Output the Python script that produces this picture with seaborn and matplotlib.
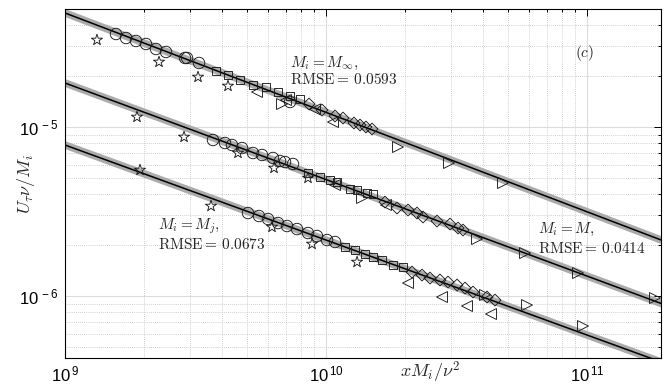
import numpy as np
import pandas as pd
import matplotlib
matplotlib.use("Agg")
import matplotlib.pyplot as plt
import seaborn as sns
from matplotlib.ticker import LogLocator, FuncFormatter, NullFormatter

# ---------------- data (x in units of 1e9, y in units of 1e-6) ----------------
inf_x = [1.326, 2.292, 3.233, 4.212,
         1.568, 1.713, 1.871, 2.043, 2.232, 2.438, 2.883, 2.934, 3.262, 7.28,
         3.789, 4.212, 4.683, 5.252, 5.891, 6.549, 7.279, 7.950,
         5.440, 7.026, 9.075, 10.64,
         6.783, 18.87, 29.60, 47.67,
         8.61, 9.654, 10.83, 11.62, 12.80, 13.50, 14.23, 15.01]
inf_y = [32.72, 24.25, 19.76, 17.48,
         35.50, 33.62, 32.28, 30.99, 28.94, 27.79, 25.61, 25.61, 23.92, 14.06,
         21.45, 20.31, 18.97, 17.72, 17.24, 16.11, 15.25, 14.64,
         16.11, 14.44, 12.71, 10.70,
         13.68, 7.614, 6.124, 4.663,
         13.68, 12.60, 11.62, 11.30, 10.56, 10.27, 10.00, 9.73]
inf_m = (["*"] * 4 + ["o"] * 10 + ["s"] * 8 + ["<"] * 4 + [">"] * 4 + ["D"] * 8)

m_x = [1.887, 2.858, 4.600, 6.322, 8.531,
       3.690, 4.102, 4.363, 4.767, 5.252, 5.687, 6.265, 6.665, 6.965, 7.474,
       8.531, 9.484, 10.36, 11.02, 12.36, 13.15, 14.36, 15.14,
       10.83, 16.98,
       13.74, 37.89, 57.88, 92.38, 182.2,
       16.83, 18.71, 20.62, 22.32, 23.53, 26.63, 29.86, 32.05, 33.49]
m_y = [11.46, 8.727, 7.017, 5.722, 4.992,
       8.378, 8.043, 7.825, 7.510, 7.017, 6.831, 6.556, 6.292, 6.207, 6.041,
       5.342, 5.060, 4.858, 4.727, 4.297, 4.239, 4.069, 4.014,
       4.537, 3.455,
       3.801, 2.174, 1.796, 1.368, 0.9732,
       3.598, 3.316, 3.228, 3.098, 2.934, 2.778, 2.667, 2.526, 2.458]
m_m = (["*"] * 5 + ["o"] * 10 + ["s"] * 8 + ["<"] * 2 + [">"] * 5 + ["D"] * 9)

j_x = [1.938, 3.626, 6.210, 8.842, 13.15,
       5.025, 5.537, 5.995, 6.549, 7.089, 7.742, 8.531, 9.237, 10.09, 10.83,
       11.82, 12.92, 14.11, 15.14, 16.39, 18.06, 19.72,
       20.62, 27.83, 34.69, 42.87,
       40.66, 58.90, 96.54,
       21.36, 23.33, 25.03, 27.34, 29.34, 31.77, 34.09, 36.58, 41.39, 44.42]
j_y = [5.566, 3.407, 2.560, 2.031, 1.589,
       3.098, 2.974, 2.855, 2.704, 2.596, 2.491, 2.359, 2.265, 2.145, 2.088,
       1.950, 1.872, 1.772, 1.701, 1.633, 1.526, 1.485,
       1.194, 0.9865, 0.8728, 0.7826,
       1.014, 0.8844, 0.6646,
       1.387, 1.331, 1.278, 1.244, 1.210, 1.162, 1.115, 1.056, 0.9865, 0.9469]
j_m = (["*"] * 5 + ["o"] * 10 + ["s"] * 7 + ["<"] * 4 + [">"] * 3 + ["D"] * 10)

# power-law fits: y = prefactor * (x / 1e9) ** exponent
fit_names = ["inf", "M", "j"]
fit_prefactor = [4.727e-5, 1.821e-5, 7.824e-6]
fit_exponent = [-0.588, -0.571, -0.562]

labels_a = [r"$M_i = M_\infty,$", r"$M_i = M,$", r"$M_i = M_j,$"]
labels_b = [r"$\mathrm{RMSE}{=}\,0.0593$", r"$\mathrm{RMSE}{=}\,0.0414$",
            r"$\mathrm{RMSE}{=}\,0.0673$"]

# ---------------- style ----------------
sns.set_theme(style="white")
plt.rcParams["font.family"] = ["DejaVu Sans"]
plt.rcParams["mathtext.fontset"] = "cm"
plt.rcParams["xtick.direction"] = "in"
plt.rcParams["ytick.direction"] = "in"

frames = []
for name, xs, ys, ms in [("inf", inf_x, inf_y, inf_m), ("M", m_x, m_y, m_m), ("j", j_x, j_y, j_m)]:
    frames.append(pd.DataFrame({"x": np.array(xs) * 1e9, "y": np.array(ys) * 1e-6,
                                "marker": ms, "series": name}))
df = pd.concat(frames, ignore_index=True)

fig = plt.figure(figsize=(6.64, 3.85), dpi=100)
ax = fig.add_axes([65 / 664, 1 - 358 / 385, 596 / 664, 349 / 385])
ax.set_xscale("log")
ax.set_yscale("log")
xlim = (1e9, 1.921e11)
ylim = (4.30e-7, 4.99e-5)

# fit lines
xx = np.logspace(np.log10(xlim[0]) - 0.05, np.log10(xlim[1]) + 0.05, 50)
for name, a, b in zip(fit_names, fit_prefactor, fit_exponent):
    fd = pd.DataFrame({"x": xx, "y": a * (xx / 1e9) ** b})
    sns.lineplot(data=fd, x="x", y="y", ax=ax, color="#ababab", lw=5.4,
                 zorder=2, estimator=None, sort=False, legend=False)
    sns.lineplot(data=fd, x="x", y="y", ax=ax, color="black", lw=1.1,
                 zorder=3, estimator=None, sort=False, legend=False)

sizes = {"*": 70, "o": 68, "s": 40, "<": 62, ">": 62, "D": 36}
for mk, sub in df.groupby("marker"):
    sns.scatterplot(data=sub, x="x", y="y", ax=ax, marker=mk, s=sizes[mk],
                    facecolor="none", edgecolor="#1a1a1a", linewidth=0.65,
                    zorder=4, legend=False)

ax.set_xlim(*xlim)
ax.set_ylim(*ylim)

# grid
ax.grid(True, which="major", color="#dcdcdc", lw=0.8, ls="-", zorder=0)
ax.grid(True, which="minor", color="#c0c0c0", lw=0.6, ls=(0, (1, 1.5)), zorder=0)
ax.set_axisbelow(True)

# ticks
ax.xaxis.set_major_locator(LogLocator(base=10, numticks=10))
ax.xaxis.set_minor_locator(LogLocator(base=10, subs=np.arange(2, 10), numticks=20))
ax.yaxis.set_major_locator(LogLocator(base=10, numticks=10))
ax.yaxis.set_minor_locator(LogLocator(base=10, subs=np.arange(2, 10), numticks=20))
fmt = FuncFormatter(lambda v, p: r"$\mathregular{10^{\,%d}}$" % int(round(np.log10(v))))
ax.xaxis.set_major_formatter(fmt)
ax.yaxis.set_major_formatter(fmt)
ax.xaxis.set_minor_formatter(NullFormatter())
ax.yaxis.set_minor_formatter(NullFormatter())
ax.tick_params(which="both", top=True, right=True, direction="in", colors="black",
               labelsize=12, width=0.7, labelfontfamily="Liberation Sans")
ax.tick_params(which="major", length=5, pad=5)
ax.tick_params(which="minor", length=2.5)
for s in ax.spines.values():
    s.set_color("black")
    s.set_linewidth(0.8)

ax.set_xlabel(r"$xM_i/\nu^2$", fontsize=13)
ax.set_ylabel(r"$U_\tau\nu/M_i$", fontsize=13)
ax.xaxis.label.set_va("center")
ax.yaxis.label.set_va("center")
ax.xaxis.set_label_coords(0.612, -0.042)
ax.yaxis.set_label_coords(-0.066, 0.5)

# annotations (axes fraction)
pos = [(0.378, 0.845, 0.797), (0.794, 0.367, 0.315), (0.156, 0.378, 0.324)]
for la, lb, (px, py1, py2) in zip(labels_a, labels_b, pos):
    ax.text(px, py1, la, transform=ax.transAxes, fontsize=11, ha="left", va="center")
    ax.text(px, py2, lb, transform=ax.transAxes, fontsize=11, ha="left", va="center")
ax.text(0.872, 0.874, r"$(c)$", transform=ax.transAxes, fontsize=11, ha="center", va="center")

fig.savefig("out.png", dpi=100)
